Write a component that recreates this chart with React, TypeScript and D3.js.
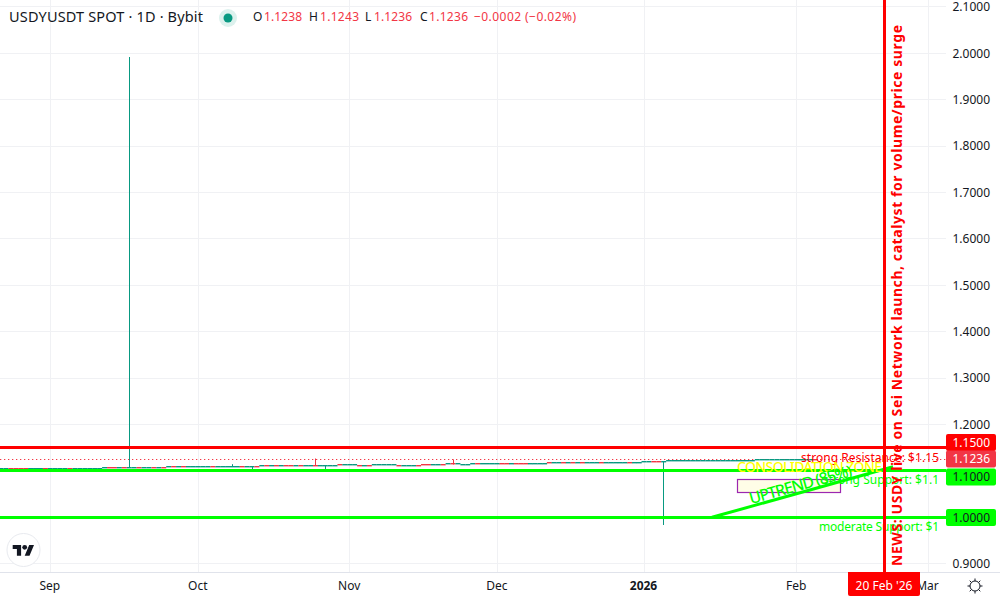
import React from "react";
import * as d3 from "d3";

const startDate = "2025-08-22";
// Daily closes, from 22 Aug 2025 onward
const closes = [
  1.1056, 1.1056, 1.1056, 1.1056, 1.1056, 1.103, 1.1056, 1.1056, 1.1056, 1.1056,
  1.1056, 1.1056, 1.1056, 1.1056, 1.1056, 1.1056, 1.1056, 1.1056, 1.1056, 1.1056,
  1.1056, 1.1078, 1.1078, 1.1078, 1.1078, 1.1078, 1.1078, 1.1078, 1.1078, 1.1078,
  1.1078, 1.1078, 1.1078, 1.1078, 1.1091, 1.1091, 1.1091, 1.1091, 1.1091, 1.1091,
  1.1091, 1.1091, 1.1091, 1.1091, 1.1091, 1.1091, 1.1091, 1.1091, 1.1091, 1.1091,
  1.1091, 1.1091, 1.1091, 1.1121, 1.1121, 1.1121, 1.1121, 1.1121, 1.1121, 1.1121,
  1.1121, 1.1121, 1.1121, 1.1121, 1.1121, 1.1121, 1.1121, 1.1121, 1.1121, 1.1138,
  1.1116, 1.1138, 1.1116, 1.1116, 1.1116, 1.1116, 1.1138, 1.1138, 1.1138, 1.1138,
  1.1116, 1.1116, 1.1116, 1.1116, 1.1116, 1.1116, 1.1138, 1.1138, 1.1138, 1.1138,
  1.1138, 1.116, 1.116, 1.1138, 1.1138, 1.1138, 1.1162, 1.1162, 1.1162, 1.1162,
  1.1162, 1.1162, 1.1162, 1.1162, 1.1162, 1.1162, 1.1162, 1.1162, 1.1162, 1.1162,
  1.1162, 1.1162, 1.1185, 1.117, 1.117, 1.117, 1.117, 1.117, 1.1185, 1.1185,
  1.1185, 1.1185, 1.1185, 1.1185, 1.1185, 1.1185, 1.1185, 1.1185, 1.1185, 1.1185,
  1.1185, 1.1185, 1.1209, 1.1209, 1.1209, 1.1209, 1.1195, 1.1212, 1.1212, 1.1212,
  1.1212, 1.1212, 1.1212, 1.1212, 1.1212, 1.1212, 1.1212, 1.1212, 1.1212, 1.1212,
  1.1212, 1.1212, 1.1212, 1.1212, 1.1212, 1.1236, 1.1236, 1.1236, 1.1236, 1.1236,
  1.1236, 1.1236, 1.1236, 1.1236, 1.1236, 1.1238, 1.1238, 1.1236,
];
const redDays = [
  2, 3, 4, 5, 9, 14, 22, 23, 25, 28, 31, 33, 35, 37, 43, 49, 52, 54, 56, 58, 59, 61, 64, 69, 73, 75,
  81, 85, 86, 87, 90, 92, 97, 102, 103, 105, 106, 107, 112, 115, 117, 119, 123, 129, 134, 135, 167,
];
// Wicks: candle index, high, low
const wickDays = [26, 47, 51, 64, 66, 92, 136];
const wickHighs = [1.992, 1.1145, 1.11, 1.1267, 1.1121, 1.1246, 1.1209];
const wickLows = [1.1078, 1.109, 1.098, 1.1121, 1.099, 1.1138, 0.9834];

const priceTicks = [2.1, 2.0, 1.9, 1.8, 1.7, 1.6, 1.5, 1.4, 1.3, 1.2, 1.1, 1.0, 0.9];
const monthLabels = ["Sep", "Oct", "Nov", "Dec", "2026", "Feb", "Mar"];
const monthDates = ["2025-09-01", "2025-10-01", "2025-11-01", "2025-12-01", "2026-01-01", "2026-02-01", "2026-03-01"];
const monthPixels = [50.3, 198.3, 349.7, 497.3, 644, 796.7, 928];
const newsDate = "2026-02-20";
const newsPixel = 884.5;
const levels = [1.15, 1.1, 1.0];
const levelColors = ["#ff0000", "#00ff00", "#00ff00"];

const UP = "#089981";
const DOWN = "#F23645";
const FONT = "'Noto Sans', sans-serif";
const INK = "#131722";

const parse = (s: string) => new Date(s + "T00:00:00Z");

const x = d3
  .scaleUtc()
  .domain([parse("2025-08-21"), ...monthDates.slice(0, 6).map(parse), parse(newsDate), parse(monthDates[6])])
  .range([-3.9, ...monthPixels.slice(0, 6), newsPixel, monthPixels[6]]);
const y = d3.scaleLinear().domain([1, 2]).range([517.3, 53.3]);
const start = parse(startDate);
const dayX = (i: number) => x(d3.utcDay.offset(start, i));
const crisp = (v: number) => Math.floor(v) + 0.5;

const PLOT_R = 946;
const AXIS_Y = 572;

function PriceTag({ cy, fill, color, text }: { cy: number; fill: string; color: string; text: string }) {
  return (
    <g>
      <rect x={946} y={cy - 8.5} width={50} height={17} rx={2} fill={fill} />
      <text x={990} y={cy + 4.3} textAnchor="end" fontSize={12} fill={color} fontFamily={FONT}>
        {text}
      </text>
    </g>
  );
}

export default function App() {
  const red = new Set(redDays);
  const [uLeft, uRight] = [
    { x: 712, y: y(1.0) },
    { x: 893, y: y(1.1088) },
  ];
  const sunRays = d3.range(8).map((k) => (k * Math.PI) / 4);
  return (
    <svg width={1000} height={600} style={{ position: "absolute", left: 0, top: 0, display: "block", background: "#fff" }}>
      {/* Grid */}
      {priceTicks.map((t) => (
        <line key={t} x1={0} x2={PLOT_R} y1={crisp(y(t))} y2={crisp(y(t))} stroke="#f0f1f4" />
      ))}
      {monthPixels.map((px) => (
        <line key={px} x1={crisp(px)} x2={crisp(px)} y1={0} y2={AXIS_Y} stroke="#f0f1f4" />
      ))}
      <line x1={0} x2={1000} y1={AXIS_Y + 0.5} y2={AXIS_Y + 0.5} stroke="#e0e3eb" />

      {/* Candles */}
      <line x1={0} x2={PLOT_R} y1={459.5} y2={459.5} stroke={DOWN} strokeDasharray="1.3 2.7" />
      {wickDays.map((d, k) => (
        <line
          key={d}
          x1={crisp(dayX(d))}
          x2={crisp(dayX(d))}
          y1={y(wickHighs[k])}
          y2={y(wickLows[k])}
          stroke={red.has(d) ? DOWN : UP}
          strokeWidth={1}
        />
      ))}
      {closes.map((c, i) => {
        const o = i === 0 ? c : closes[i - 1];
        const top = Math.round(Math.min(y(o), y(c)) - 0.6);
        const h = Math.max(1.4, Math.abs(y(o) - y(c)));
        const w = 4.95;
        return <rect key={i} x={dayX(i) - w / 2} y={top} width={w} height={h} fill={red.has(i) ? DOWN : UP} />;
      })}

      {/* Drawings */}
      <rect x={737.5} y={479.5} width={103} height={13} fill="#fffde7" stroke="#9c27b0" strokeWidth={1.2} />
      {levels.map((l, k) => (
        <line key={l} x1={0} x2={PLOT_R} y1={crisp(y(l))} y2={crisp(y(l))} stroke={levelColors[k]} strokeWidth={2.8} />
      ))}
      <line x1={uLeft.x} y1={uLeft.y} x2={uRight.x} y2={uRight.y} stroke="#00ff00" strokeWidth={3} />
      <text x={939} y={461.5} textAnchor="end" fontSize={12} fill="#ff0000" fontFamily={FONT} textLength={138}>
        strong Resistance: $1.15
      </text>
      <text x={939} y={484} textAnchor="end" fontSize={12} fill="#00ff00" fontFamily={FONT} textLength={116}>
        strong Support: $1.1
      </text>
      <text x={939} y={531} textAnchor="end" fontSize={12} fill="#00ff00" fontFamily={FONT} textLength={120}>
        moderate Support: $1
      </text>
      <text x={737} y={472} fontSize={14} fontWeight={500} fill="#ffff00" fontFamily={FONT} textLength={145}>
        CONSOLIDATION ZONE
      </text>
      <text
        transform="translate(802,490) rotate(-15.5)"
        textAnchor="middle"
        fontSize={16}
        fontWeight={500}
        fill="#00ff00"
        fontFamily={FONT}
        textLength={106}
      >
        UPTREND (85%)
      </text>
      <line x1={x(parse(newsDate))} x2={x(parse(newsDate))} y1={0} y2={AXIS_Y} stroke="#ff0000" strokeWidth={3} />
      <text
        transform="translate(901.5,566) rotate(-90)"
        fontSize={14}
        fontWeight={700}
        fill="#ff0000"
        fontFamily={FONT}
        textLength={541}
      >
        NEWS: USDY live on Sei Network launch, catalyst for volume/price surge
      </text>

      {/* Price axis */}
      {priceTicks
        .filter((t) => t !== 1.1 && t !== 1.0)
        .map((t) => (
          <text key={t} x={990} y={y(t) + 4.3} textAnchor="end" fontSize={12} fill={INK} fontFamily={FONT}>
            {t.toFixed(4)}
          </text>
        ))}
      <PriceTag cy={442.5} fill="#ff0000" color="#ffffff" text="1.1500" />
      <PriceTag cy={459} fill="#F23645" color="#ffffff" text="1.1236" />
      <PriceTag cy={477} fill="#00ff00" color={INK} text="1.1000" />
      <PriceTag cy={517.5} fill="#00ff00" color={INK} text="1.0000" />

      {/* Time axis */}
      {monthLabels.map((m, k) => (
        <text
          key={m}
          x={monthPixels[k] - 0.5}
          y={590}
          textAnchor="middle"
          fontSize={12}
          fontWeight={m === "2026" ? 700 : 400}
          fill={INK}
          fontFamily={FONT}
        >
          {m}
        </text>
      ))}
      <path d="M848 572H920V594a2 2 0 0 1-2 2H850a2 2 0 0 1-2-2Z" fill="#ff0000" />
      <text x={884} y={590} textAnchor="middle" fontSize={12} fill="#ffffff" fontFamily={FONT}>
        20 Feb '26
      </text>

      {/* Header */}
      <text x={9} y={22} fontSize={14.5} fill={INK} fontFamily={FONT} textLength={194}>
        USDYUSDT SPOT · 1D · Bybit
      </text>
      <circle cx={228} cy={18} r={9} fill={UP} opacity={0.14} />
      <circle cx={228} cy={18} r={4.5} fill={UP} />
      <g fontSize={12} fontFamily={FONT}>
        <text x={253} y={21} fill={INK}>O</text>
        <text x={264} y={21} fill={DOWN} textLength={38}>1.1238</text>
        <text x={309} y={21} fill={INK}>H</text>
        <text x={320} y={21} fill={DOWN} textLength={39}>1.1243</text>
        <text x={365} y={21} fill={INK}>L</text>
        <text x={374} y={21} fill={DOWN} textLength={38}>1.1236</text>
        <text x={420} y={21} fill={INK}>C</text>
        <text x={429} y={21} fill={DOWN} textLength={39}>1.1236</text>
        <text x={474} y={21} fill={DOWN} textLength={102}>−0.0002 (−0.02%)</text>
      </g>

      {/* TradingView logo */}
      <circle cx={23.5} cy={550} r={16.5} fill="#fff" stroke="#e8eaef" />
      <g transform="translate(12.7,542.5) scale(0.6)" fill={INK}>
        <path d="M14 22H7V11H0V4h14v18zM28 22h-8l7.5-18h8L28 22z" />
        <circle cx={20} cy={8} r={4} />
      </g>

      {/* Settings icon */}
      <g stroke={INK} fill="none" strokeWidth={1}>
        <circle cx={975} cy={586} r={5} />
        {sunRays.map((a) => (
          <line
            key={a}
            x1={975 + 5 * Math.cos(a)}
            y1={586 + 5 * Math.sin(a)}
            x2={975 + 7.5 * Math.cos(a)}
            y2={586 + 7.5 * Math.sin(a)}
          />
        ))}
      </g>
    </svg>
  );
}
